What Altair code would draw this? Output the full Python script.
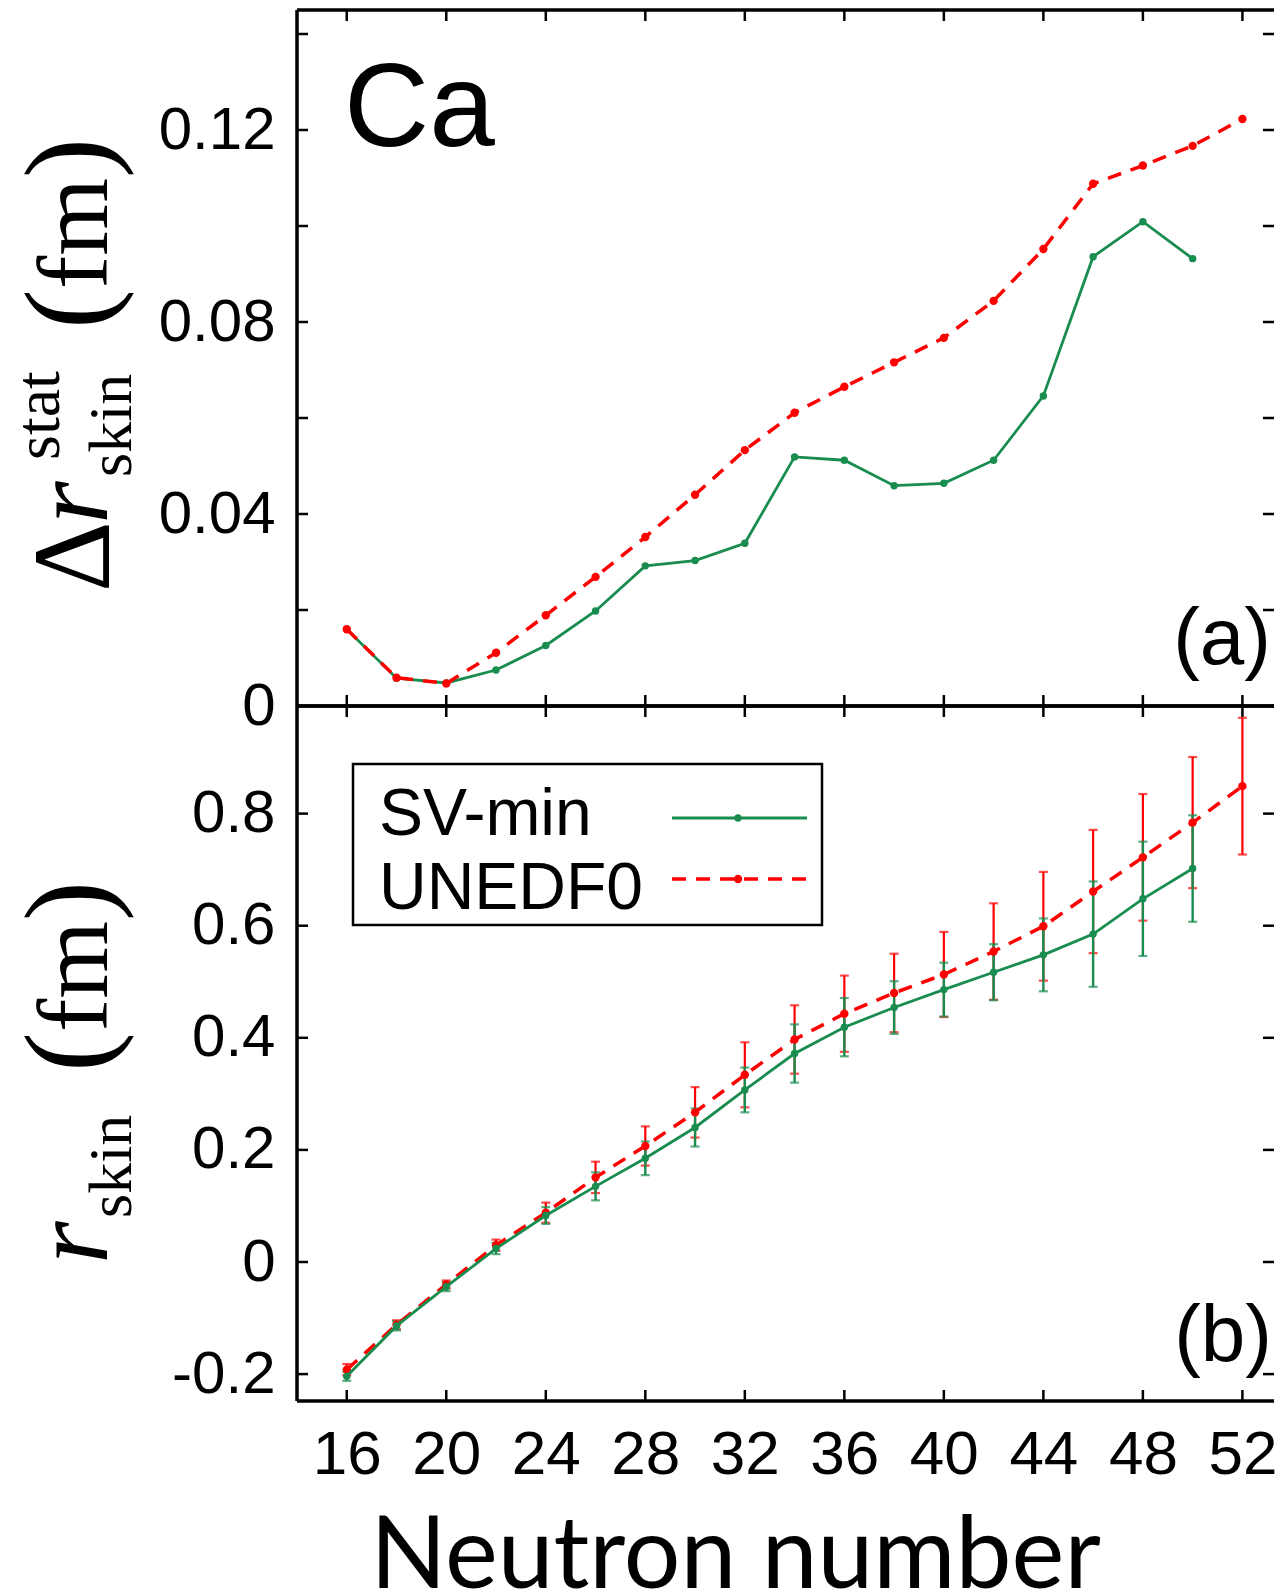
import altair as alt
import pandas as pd

# ---------------- data ----------------
N_un = [16, 18, 20, 22, 24, 26, 28, 30, 32, 34, 36, 38, 40, 42, 44, 46, 48, 50, 52]
N_sv = [16, 18, 20, 22, 24, 26, 28, 30, 32, 34, 36, 38, 40, 42, 44, 46, 48, 50]

# panel (a): statistical error of the skin (fm)
sv_a = [0.0160, 0.0058, 0.0048, 0.0075, 0.0126, 0.0198, 0.0292, 0.0303, 0.0339, 0.0519,
        0.0512, 0.0459, 0.0464, 0.0512, 0.0646, 0.0936, 0.1009, 0.0932]
un_a = [0.0160, 0.0059, 0.0047, 0.0111, 0.0189, 0.0269, 0.0352, 0.0440, 0.0533, 0.0611,
        0.0665, 0.0716, 0.0767, 0.0844, 0.0952, 0.1088, 0.1126, 0.1167, 0.1223]

# panel (b): skin thickness (fm) with error bars
sv_b = [-0.204, -0.114, -0.044, 0.024, 0.083, 0.135, 0.185, 0.240, 0.307, 0.372,
        0.419, 0.454, 0.486, 0.517, 0.548, 0.585, 0.648, 0.702]
sv_b_err = [0.008, 0.008, 0.008, 0.010, 0.015, 0.025, 0.030, 0.034, 0.040, 0.052,
            0.052, 0.047, 0.048, 0.050, 0.065, 0.094, 0.102, 0.095]
un_b = [-0.192, -0.112, -0.040, 0.030, 0.088, 0.151, 0.207, 0.267, 0.334, 0.397,
        0.443, 0.480, 0.513, 0.554, 0.599, 0.661, 0.722, 0.784, 0.849]
un_b_err = [0.010, 0.008, 0.007, 0.010, 0.018, 0.028, 0.035, 0.045, 0.058, 0.061,
            0.068, 0.070, 0.076, 0.086, 0.097, 0.110, 0.113, 0.117, 0.122]

series = ["SV-min", "UNEDF0"]
x_ticks = [16, 20, 24, 28, 32, 36, 40, 44, 48, 52]
ya_ticks = [0.02, 0.04, 0.06, 0.08, 0.10, 0.12, 0.14]
ya_labels = [0, 0.04, 0.08, 0.12]
yb_ticks = [-0.2, 0.0, 0.2, 0.4, 0.6, 0.8]

# ---------------- style / geometry ----------------
GREEN = "#198c4f"
RED = "#ff0000"
W, HA, HB = 977, 696, 695
XDOM = [14, 53.27]
YA = [0, 0.145]
YB = [-0.248, 0.992]
TL = 11  # inward tick length
FW = 3.5  # frame width
SANS = "Liberation Sans"
SERIF = "Liberation Serif"

xs = alt.Scale(domain=XDOM, nice=False, zero=False)
ysa = alt.Scale(domain=YA, nice=False, zero=False)
ysb = alt.Scale(domain=YB, nice=False, zero=False)

yaxis_a = alt.Axis(values=ya_labels, ticks=False, domain=False, grid=False,
                   labelFont=SANS, labelFontSize=60, labelPadding=22, labelColor="black",
                   labelExpr="datum.value == 0 ? '0' : format(datum.value, '.2f')")
yaxis_b = alt.Axis(values=yb_ticks, ticks=False, domain=False, grid=False,
                   labelFont=SANS, labelFontSize=60, labelPadding=22, labelColor="black",
                   labelExpr="abs(datum.value) < 1e-9 ? '0' : (datum.value < 0 ? '-' + format(-datum.value, '.1f') : format(datum.value, '.1f'))")
xaxis_b = alt.Axis(values=x_ticks, ticks=False, domain=False, grid=False,
                   labelFont="Liberation Sans Narrow, Liberation Sans", labelFontSize=62,
                   labelPadding=23, labelColor="black",
                   title="Neutron number", titleFont="Lato, Open Sans", titleFontSize=100,
                   titleFontWeight="normal", titleColor="black", titleX=438, titleY=186,
                   titleAlign="center", titleBaseline="alphabetic")


def X(field, axis):
    if axis is None:
        return alt.X(field, scale=xs, axis=None, title=None)
    return alt.X(field, scale=xs, axis=axis)


def Y(field, scale, axis):
    return alt.Y(field, scale=scale, axis=axis, title=None)


def label(txt, x, y, **kw):
    return alt.Chart(pd.DataFrame({"t": [txt]})).mark_text(**kw).encode(
        x=alt.value(x), y=alt.value(y), text="t:N")


def one():
    return alt.Chart(pd.DataFrame({"a": [0]}))


def frame(H):
    r = dict(color="black", strokeWidth=FW)
    return [
        one().mark_rule(**r).encode(x=alt.value(0), x2=alt.value(W), y=alt.value(0)),
        one().mark_rule(**r).encode(x=alt.value(0), x2=alt.value(W), y=alt.value(H)),
        one().mark_rule(**r).encode(x=alt.value(0), y=alt.value(0), y2=alt.value(H)),
    ]


def frame_ticks(yvals, yscale, yaxis, xaxis, H):
    dx = pd.DataFrame({"x": x_ticks})
    dy = pd.DataFrame({"y": yvals})
    r = dict(color="black", strokeWidth=2.5)
    return [
        alt.Chart(dx).mark_rule(**r).encode(x=X("x:Q", xaxis), y=alt.value(0), y2=alt.value(TL)),
        alt.Chart(dx).mark_rule(**r).encode(x=X("x:Q", xaxis), y=alt.value(H - TL), y2=alt.value(H)),
        alt.Chart(dy).mark_rule(**r).encode(y=Y("y:Q", yscale, yaxis), x=alt.value(0), x2=alt.value(TL)),
        alt.Chart(dy).mark_rule(**r).encode(y=Y("y:Q", yscale, yaxis), x=alt.value(W - TL), x2=alt.value(W)),
    ] + frame(H)


# ---------------- panel (a) ----------------
da_sv = pd.DataFrame({"N": N_sv, "v": sv_a})
da_un = pd.DataFrame({"N": N_un, "v": un_a})

top_layers = frame_ticks(ya_ticks, ysa, yaxis_a, None, HA)
top_layers += [
    alt.Chart(da_sv).mark_line(color=GREEN, strokeWidth=2.8).encode(x=X("N:Q", None), y=Y("v:Q", ysa, yaxis_a)),
    alt.Chart(da_sv).mark_circle(color=GREEN, size=55, opacity=1).encode(x=X("N:Q", None), y=Y("v:Q", ysa, yaxis_a)),
    alt.Chart(da_un).mark_line(color=RED, strokeWidth=3.5, strokeDash=[14, 10]).encode(x=X("N:Q", None), y=Y("v:Q", ysa, yaxis_a)),
    alt.Chart(da_un).mark_circle(color=RED, size=70, opacity=1).encode(x=X("N:Q", None), y=Y("v:Q", ysa, yaxis_a)),
    label("Ca", 47, 136, align="left", baseline="alphabetic", font=SANS, fontSize=118, color="black"),
    label("(a)", 974, 654, align="right", baseline="alphabetic", font=SANS, fontSize=80, color="black"),
    # y-axis title: Δr^stat_skin (fm)
    label("\u0394", -188, 582, angle=270, align="left", baseline="alphabetic", font=SERIF, fontSize=110, color="black"),
    label("r", -190, 514, angle=270, align="left", baseline="alphabetic", font=SERIF, fontStyle="italic", fontSize=110, color="black"),
    label("stat", -238, 450, angle=270, align="left", baseline="alphabetic", font=SERIF, fontSize=64, color="black"),
    label("skin", -166, 467, angle=270, align="left", baseline="alphabetic", font=SERIF, fontSize=62, color="black"),
    label("(", -189, 319, angle=270, align="left", baseline="alphabetic", font=SERIF, fontSize=120, color="black"),
    label("fm", -190, 279, angle=270, align="left", baseline="alphabetic", font=SERIF, fontSize=100, color="black"),
    label(")", -189, 168, angle=270, align="left", baseline="alphabetic", font=SERIF, fontSize=120, color="black"),
]
top = alt.layer(*top_layers).properties(width=W, height=HA)

# ---------------- panel (b) ----------------
db_sv = pd.DataFrame({"N": N_sv, "v": sv_b, "err": sv_b_err})
db_un = pd.DataFrame({"N": N_un, "v": un_b, "err": un_b_err})
for d in (db_sv, db_un):
    d["lo"] = d["v"] - d["err"]
    d["hi"] = d["v"] + d["err"]

xb = lambda f: X(f, xaxis_b)
yb = lambda f: Y(f, ysb, yaxis_b)

bot_layers = frame_ticks(yb_ticks, ysb, yaxis_b, xaxis_b, HB)
bot_layers += [
    alt.Chart(db_un).mark_rule(color=RED, strokeWidth=2.2).encode(x=xb("N:Q"), y=yb("lo:Q"), y2="hi:Q"),
    alt.Chart(db_un).mark_tick(color=RED, orient="horizontal", size=9, thickness=2.2).encode(x=xb("N:Q"), y=yb("lo:Q")),
    alt.Chart(db_un).mark_tick(color=RED, orient="horizontal", size=9, thickness=2.2).encode(x=xb("N:Q"), y=yb("hi:Q")),
    alt.Chart(db_sv).mark_rule(color=GREEN, strokeWidth=2.4).encode(x=xb("N:Q"), y=yb("lo:Q"), y2="hi:Q"),
    alt.Chart(db_sv).mark_tick(color=GREEN, orient="horizontal", size=9, thickness=2.2).encode(x=xb("N:Q"), y=yb("lo:Q")),
    alt.Chart(db_sv).mark_tick(color=GREEN, orient="horizontal", size=9, thickness=2.2).encode(x=xb("N:Q"), y=yb("hi:Q")),
    alt.Chart(db_un).mark_line(color=RED, strokeWidth=3.5, strokeDash=[14, 10]).encode(x=xb("N:Q"), y=yb("v:Q")),
    alt.Chart(db_un).mark_circle(color=RED, size=70, opacity=1).encode(x=xb("N:Q"), y=yb("v:Q")),
    alt.Chart(db_sv).mark_line(color=GREEN, strokeWidth=2.8).encode(x=xb("N:Q"), y=yb("v:Q")),
    alt.Chart(db_sv).mark_circle(color=GREEN, size=55, opacity=1).encode(x=xb("N:Q"), y=yb("v:Q")),
    # legend
    one().mark_rect(fill="white", stroke="black", strokeWidth=2.5).encode(
        x=alt.value(56), x2=alt.value(525), y=alt.value(58), y2=alt.value(219)),
    label(series[0], 82, 129, align="left", baseline="alphabetic", font=SANS, fontSize=66, color="black"),
    label(series[1], 82, 203, align="left", baseline="alphabetic", font=SANS, fontSize=66, color="black"),
    one().mark_rule(color=GREEN, strokeWidth=2.8).encode(x=alt.value(375), x2=alt.value(510), y=alt.value(112)),
    one().mark_rule(color=RED, strokeWidth=3.5, strokeDash=[14, 10]).encode(x=alt.value(375), x2=alt.value(510), y=alt.value(173)),
    one().mark_circle(color=GREEN, size=55, opacity=1).encode(x=alt.value(441), y=alt.value(112)),
    one().mark_circle(color=RED, size=70, opacity=1).encode(x=alt.value(441), y=alt.value(173)),
    label("(b)", 975, 655, align="right", baseline="alphabetic", font=SANS, fontSize=80, color="black"),
    # y-axis title: r_skin (fm)
    label("r", -190, 558, angle=270, align="left", baseline="alphabetic", font=SERIF, fontStyle="italic", fontSize=110, color="black"),
    label("skin", -166, 512, angle=270, align="left", baseline="alphabetic", font=SERIF, fontSize=62, color="black"),
    label("(", -189, 366, angle=270, align="left", baseline="alphabetic", font=SERIF, fontSize=120, color="black"),
    label("fm", -190, 326, angle=270, align="left", baseline="alphabetic", font=SERIF, fontSize=100, color="black"),
    label(")", -189, 215, angle=270, align="left", baseline="alphabetic", font=SERIF, fontSize=120, color="black"),
]
bottom = alt.layer(*bot_layers).properties(width=W, height=HB)

chart = alt.vconcat(top, bottom, spacing=0, bounds="flush").properties(padding=0).configure_view(
    stroke="transparent", strokeWidth=0)

chart.save("out.html", embed_options={"renderer": "svg", "actions": False})
